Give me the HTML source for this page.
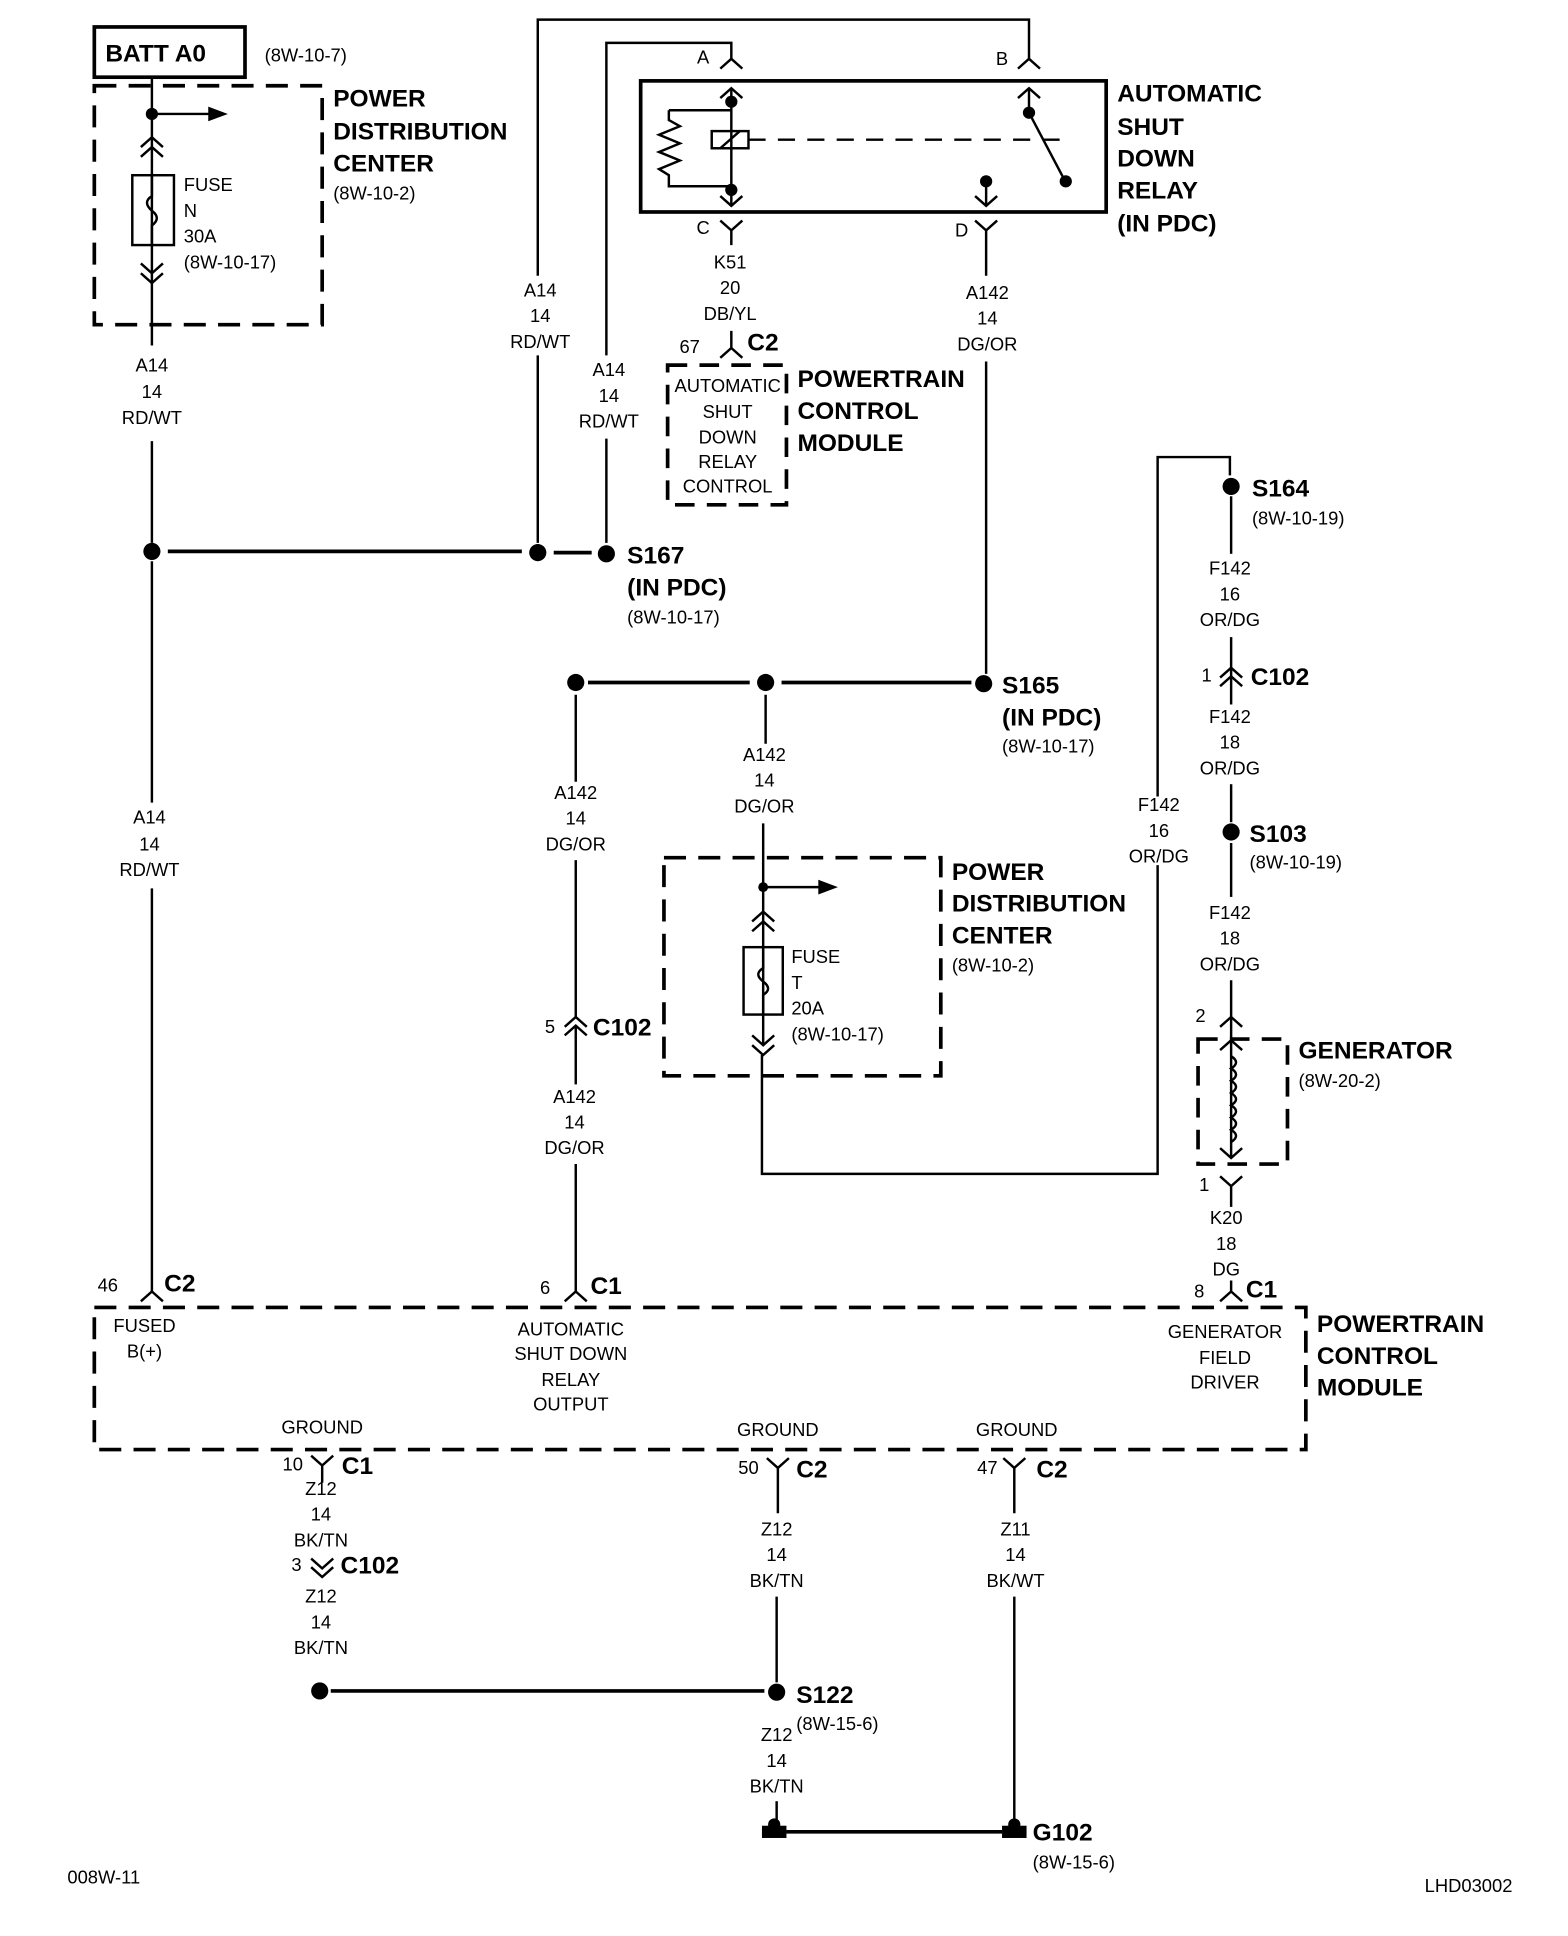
<!DOCTYPE html>
<html><head><meta charset="utf-8"><style>
html,body{margin:0;padding:0;background:#fff;}
svg{display:block;}
text{font-family:"Liberation Sans",sans-serif;fill:#000;}
.s{font-size:15px;text-anchor:middle;}
.l{font-size:15px;}
.b{font-size:20px;font-weight:bold;}
</style></head><body>
<svg width="1568" height="1936" viewBox="0 0 1280 1580" preserveAspectRatio="none" xmlns="http://www.w3.org/2000/svg">
<g fill="none" stroke="#000" stroke-width="2">
<rect x="77" y="22" width="123" height="41" stroke-width="3"/>
<rect x="77" y="70" width="186" height="195" stroke-width="3" stroke-dasharray="18,10"/>
<line x1="124" y1="63" x2="124" y2="282"/>
<line x1="124" y1="93" x2="172" y2="93"/>
<rect x="108" y="143" width="34" height="57"/>
<path d="M124 143 V160 Q116 165 124 172 Q132 178 124 184 V200"/>
<path d="M115 120 L124 112 L133 120 M115 128 L124 120 L133 128"/>
<path d="M115 215 L124 223 L133 215 M115 223 L124 231 L133 223"/>
<line x1="124" y1="360" x2="124" y2="443"/>
<line x1="124" y1="458" x2="124" y2="655"/>
<line x1="124" y1="725" x2="124" y2="1055"/>
<line x1="137" y1="450" x2="426" y2="450" stroke-width="3"/>
<line x1="452" y1="451" x2="483" y2="451" stroke-width="3"/>
<path d="M439 443 V290 M439 225 V16 H840 V48"/>
<path d="M495 443 V358 M495 290 V35 H597 V48"/>
<rect x="523" y="66" width="380" height="107" stroke-width="3"/>
<path d="M588 56 L597 48 L606 56"/>
<path d="M588 80 L597 72 L606 80"/>
<line x1="597" y1="72" x2="597" y2="168"/>
<path d="M546 90 H597 M546 90 L546 98 L555 103 L538 110 L555 117 L538 124 L555 131 L538 138 L546 143 V152 H597"/>
<rect x="581" y="107" width="30" height="14"/>
<line x1="588" y1="121" x2="604" y2="107"/>
<line x1="611" y1="114" x2="868" y2="114" stroke-dasharray="14,10"/>
<path d="M588 160 L597 168 L606 160"/>
<path d="M588 180 L597 188 L606 180 M597 188 V200"/>
<path d="M831 56 L840 48 L849 56"/>
<path d="M831 80 L840 72 L849 80"/>
<line x1="840" y1="72" x2="840" y2="92"/>
<line x1="840" y1="92" x2="868" y2="145"/>
<line x1="805" y1="148" x2="805" y2="168"/>
<path d="M796 160 L805 168 L814 160"/>
<path d="M796 180 L805 188 L814 180 M805 188 V225"/>
<path d="M588 292 L597 284 L606 292 M597 284 V270"/>
<rect x="545" y="298" width="97" height="114" stroke-width="3" stroke-dasharray="16,10"/>
<line x1="805" y1="295" x2="805" y2="550"/>
<line x1="480" y1="557" x2="612" y2="557" stroke-width="3"/>
<line x1="638" y1="557" x2="793" y2="557" stroke-width="3"/>
<line x1="470" y1="567" x2="470" y2="638"/>
<line x1="470" y1="702" x2="470" y2="830"/>
<path d="M461 838 L470 830 L479 838 M461 845 L470 837 L479 845"/>
<line x1="470" y1="837" x2="470" y2="885"/>
<line x1="470" y1="950" x2="470" y2="1055"/>
<line x1="625" y1="567" x2="625" y2="607"/>
<line x1="623" y1="672" x2="623" y2="852"/>
<line x1="623" y1="724" x2="670" y2="724"/>
<rect x="542" y="700" width="226" height="178" stroke-width="3" stroke-dasharray="18,10"/>
<rect x="607" y="773" width="32" height="55"/>
<path d="M623 773 V790 Q615 795 623 801 Q631 807 623 812 V828"/>
<path d="M614 752 L623 744 L632 752 M614 760 L623 752 L632 760"/>
<path d="M614 845 L623 853 L632 845 M614 853 L623 861 L632 853"/>
<path d="M622 861 V958 H945 V706 M945 650 V373 H1004 V388"/>
<line x1="1005" y1="405" x2="1005" y2="452"/>
<line x1="1005" y1="520" x2="1005" y2="575"/>
<path d="M996 553 L1005 545 L1014 553 M996 560 L1005 552 L1014 560"/>
<line x1="1005" y1="640" x2="1005" y2="671"/>
<line x1="1005" y1="688" x2="1005" y2="732"/>
<line x1="1005" y1="800" x2="1005" y2="945"/>
<path d="M996 838 L1005 830 L1014 838"/>
<rect x="978" y="848" width="73" height="102" stroke-width="3" stroke-dasharray="16,10"/>
<path d="M996 857 L1005 849 L1014 857"/>
<path d="M1005 862 q8 5 0 10 q8 5 0 10 q8 5 0 10 q8 5 0 10 q8 5 0 10 q8 5 0 10 q8 5 0 10"/>
<path d="M996 937 L1005 945 L1014 937"/>
<path d="M996 960 L1005 968 L1014 960 M1005 968 V985"/>
<path d="M996 1062 L1005 1054 L1014 1062 M1005 1054 V1045"/>
<rect x="77" y="1067" width="989" height="116" stroke-width="3" stroke-dasharray="18,10"/>
<path d="M115 1062 L124 1054 L133 1062"/>
<path d="M461 1062 L470 1054 L479 1062"/>
<path d="M254 1188 L263 1196 L272 1188 M263 1196 V1210"/>
<path d="M254 1272 L263 1280 L272 1272 M254 1279 L263 1287 L272 1279"/>
<path d="M626 1190 L635 1198 L644 1190 M635 1198 V1235"/>
<line x1="634" y1="1303" x2="634" y2="1373"/>
<path d="M819 1190 L828 1198 L837 1190 M828 1198 V1235"/>
<line x1="828" y1="1303" x2="828" y2="1485"/>
<line x1="270" y1="1380" x2="624" y2="1380" stroke-width="3"/>
<line x1="634" y1="1470" x2="634" y2="1488"/>
<line x1="642" y1="1495" x2="818" y2="1495" stroke-width="3"/>
</g>
<g fill="#000">
<circle cx="124" cy="93" r="5"/>
<polygon points="170,87 186,93 170,99"/>
<circle cx="124" cy="450" r="7"/>
<circle cx="439" cy="451" r="7"/>
<circle cx="495" cy="452" r="7"/>
<circle cx="597" cy="83" r="5"/>
<circle cx="597" cy="155" r="5"/>
<circle cx="840" cy="92" r="5"/>
<circle cx="870" cy="148" r="5"/>
<circle cx="805" cy="148" r="5"/>
<circle cx="470" cy="557" r="7"/>
<circle cx="625" cy="557" r="7"/>
<circle cx="803" cy="558" r="7"/>
<circle cx="623" cy="724" r="4"/>
<polygon points="668,718 684,724 668,730"/>
<circle cx="1005" cy="397" r="7"/>
<circle cx="1005" cy="679" r="7"/>
<circle cx="261" cy="1380" r="7"/>
<circle cx="634" cy="1381" r="7"/>
<rect x="622" y="1490" width="20" height="10"/>
<rect x="818" y="1490" width="20" height="10"/>
<circle cx="632" cy="1489" r="5"/>
<circle cx="828" cy="1489" r="5"/>
</g>
<text x="86" y="50" class="b">BATT A0</text>
<text x="216" y="50" class="l">(8W-10-7)</text>
<text x="272" y="87" class="b">POWER</text>
<text x="272" y="114" class="b">DISTRIBUTION</text>
<text x="272" y="140" class="b">CENTER</text>
<text x="272" y="163" class="l">(8W-10-2)</text>
<text x="150" y="156" class="l">FUSE</text>
<text x="150" y="177" class="l">N</text>
<text x="150" y="198" class="l">30A</text>
<text x="150" y="219" class="l">(8W-10-17)</text>
<text x="124" y="303" class="s">A14</text><text x="124" y="325" class="s">14</text><text x="124" y="346" class="s">RD/WT</text>
<text x="122" y="672" class="s">A14</text><text x="122" y="694" class="s">14</text><text x="122" y="715" class="s">RD/WT</text>
<text x="441" y="242" class="s">A14</text><text x="441" y="263" class="s">14</text><text x="441" y="284" class="s">RD/WT</text>
<text x="497" y="307" class="s">A14</text><text x="497" y="328" class="s">14</text><text x="497" y="349" class="s">RD/WT</text>
<text x="574" y="52" class="s">A</text><text x="818" y="53" class="s">B</text>
<text x="574" y="191" class="s">C</text><text x="785" y="193" class="s">D</text>
<text x="912" y="83" class="b">AUTOMATIC</text><text x="912" y="110" class="b">SHUT</text><text x="912" y="136" class="b">DOWN</text><text x="912" y="162" class="b">RELAY</text><text x="912" y="189" class="b">(IN PDC)</text>
<text x="596" y="219" class="s">K51</text><text x="596" y="240" class="s">20</text><text x="596" y="261" class="s">DB/YL</text>
<text x="563" y="288" class="s">67</text><text x="610" y="286" class="b">C2</text>
<text x="594" y="320" class="s">AUTOMATIC</text><text x="594" y="341" class="s">SHUT</text><text x="594" y="362" class="s">DOWN</text><text x="594" y="382" class="s">RELAY</text><text x="594" y="402" class="s">CONTROL</text>
<text x="651" y="316" class="b">POWERTRAIN</text><text x="651" y="342" class="b">CONTROL</text><text x="651" y="368" class="b">MODULE</text>
<text x="806" y="244" class="s">A142</text><text x="806" y="265" class="s">14</text><text x="806" y="286" class="s">DG/OR</text>
<text x="512" y="460" class="b">S167</text><text x="512" y="486" class="b">(IN PDC)</text><text x="512" y="509" class="l">(8W-10-17)</text>
<text x="818" y="566" class="b">S165</text><text x="818" y="592" class="b">(IN PDC)</text><text x="818" y="614" class="l">(8W-10-17)</text>
<text x="1022" y="405" class="b">S164</text><text x="1022" y="428" class="l">(8W-10-19)</text>
<text x="1004" y="469" class="s">F142</text><text x="1004" y="490" class="s">16</text><text x="1004" y="511" class="s">OR/DG</text>
<text x="985" y="556" class="s">1</text><text x="1021" y="559" class="b">C102</text>
<text x="1004" y="590" class="s">F142</text><text x="1004" y="611" class="s">18</text><text x="1004" y="632" class="s">OR/DG</text>
<text x="1020" y="687" class="b">S103</text><text x="1020" y="709" class="l">(8W-10-19)</text>
<text x="1004" y="750" class="s">F142</text><text x="1004" y="771" class="s">18</text><text x="1004" y="792" class="s">OR/DG</text>
<text x="980" y="834" class="s">2</text>
<text x="1060" y="864" class="b">GENERATOR</text><text x="1060" y="887" class="l">(8W-20-2)</text>
<text x="983" y="972" class="s">1</text>
<text x="1001" y="999" class="s">K20</text><text x="1001" y="1020" class="s">18</text><text x="1001" y="1041" class="s">DG</text>
<text x="979" y="1059" class="s">8</text><text x="1017" y="1059" class="b">C1</text>
<text x="946" y="662" class="s">F142</text><text x="946" y="683" class="s">16</text><text x="946" y="704" class="s">OR/DG</text>
<text x="624" y="621" class="s">A142</text><text x="624" y="642" class="s">14</text><text x="624" y="663" class="s">DG/OR</text>
<text x="470" y="652" class="s">A142</text><text x="470" y="673" class="s">14</text><text x="470" y="694" class="s">DG/OR</text>
<text x="449" y="843" class="s">5</text><text x="484" y="845" class="b">C102</text>
<text x="469" y="900" class="s">A142</text><text x="469" y="921" class="s">14</text><text x="469" y="942" class="s">DG/OR</text>
<text x="777" y="718" class="b">POWER</text><text x="777" y="744" class="b">DISTRIBUTION</text><text x="777" y="770" class="b">CENTER</text><text x="777" y="793" class="l">(8W-10-2)</text>
<text x="646" y="786" class="l">FUSE</text><text x="646" y="807" class="l">T</text><text x="646" y="828" class="l">20A</text><text x="646" y="849" class="l">(8W-10-17)</text>
<text x="88" y="1054" class="s">46</text><text x="134" y="1054" class="b">C2</text>
<text x="445" y="1056" class="s">6</text><text x="482" y="1056" class="b">C1</text>
<text x="118" y="1087" class="s">FUSED</text><text x="118" y="1108" class="s">B(+)</text>
<text x="466" y="1090" class="s">AUTOMATIC</text><text x="466" y="1110" class="s">SHUT DOWN</text><text x="466" y="1131" class="s">RELAY</text><text x="466" y="1151" class="s">OUTPUT</text>
<text x="1000" y="1092" class="s">GENERATOR</text><text x="1000" y="1113" class="s">FIELD</text><text x="1000" y="1133" class="s">DRIVER</text>
<text x="1075" y="1087" class="b">POWERTRAIN</text><text x="1075" y="1113" class="b">CONTROL</text><text x="1075" y="1139" class="b">MODULE</text>
<text x="263" y="1170" class="s">GROUND</text>
<text x="239" y="1200" class="s">10</text><text x="279" y="1203" class="b">C1</text>
<text x="262" y="1220" class="s">Z12</text><text x="262" y="1241" class="s">14</text><text x="262" y="1262" class="s">BK/TN</text>
<text x="242" y="1282" class="s">3</text><text x="278" y="1284" class="b">C102</text>
<text x="262" y="1308" class="s">Z12</text><text x="262" y="1329" class="s">14</text><text x="262" y="1350" class="s">BK/TN</text>
<text x="635" y="1172" class="s">GROUND</text>
<text x="611" y="1203" class="s">50</text><text x="650" y="1206" class="b">C2</text>
<text x="634" y="1253" class="s">Z12</text><text x="634" y="1274" class="s">14</text><text x="634" y="1295" class="s">BK/TN</text>
<text x="830" y="1172" class="s">GROUND</text>
<text x="806" y="1203" class="s">47</text><text x="846" y="1206" class="b">C2</text>
<text x="829" y="1253" class="s">Z11</text><text x="829" y="1274" class="s">14</text><text x="829" y="1295" class="s">BK/WT</text>
<text x="650" y="1390" class="b">S122</text><text x="650" y="1412" class="l">(8W-15-6)</text>
<text x="634" y="1421" class="s">Z12</text><text x="634" y="1442" class="s">14</text><text x="634" y="1463" class="s">BK/TN</text>
<text x="843" y="1502" class="b">G102</text><text x="843" y="1525" class="l">(8W-15-6)</text>
<text x="55" y="1537" class="l">008W-11</text>
<text x="1163" y="1544" class="l">LHD03002</text>
</svg>
</body></html>
